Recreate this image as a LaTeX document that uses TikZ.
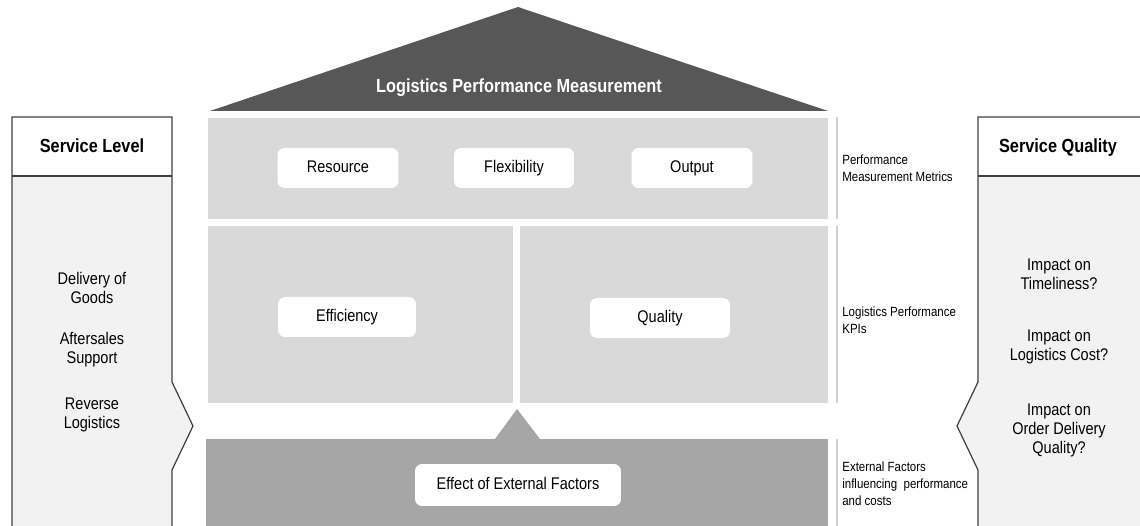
\documentclass[tikz,border=0pt]{standalone}
\usepackage{fontspec}
\setmainfont{Liberation Sans}[FakeStretch=0.86]
\usepackage{tikz}
\usetikzlibrary{shapes}
\definecolor{roofgray}{HTML}{575757}
\definecolor{bandgray}{HTML}{D9D9D9}
\definecolor{basegray}{HTML}{A6A6A6}
\definecolor{panelgray}{HTML}{F2F2F2}
\definecolor{linegray}{HTML}{404040}
\definecolor{sepgray}{HTML}{CFCFCF}
\tikzset{
	box node/.style={rectangle,fill=white,rounded corners=4pt,inner sep=0pt,minimum height=0.8cm,text height=7pt,text depth=2pt,font=\fontsize{9.6}{11}\selectfont},
	list node/.style={align=center,inner sep=0pt,font=\fontsize{9.6}{10.8}\selectfont},
	side node/.style={anchor=west,align=left,inner sep=0pt,font=\fontsize{7.6}{9.6}\selectfont},
	head node/.style={inner sep=0pt,text height=8pt,text depth=2.2pt,font=\fontsize{10.8}{12}\selectfont\bfseries},
	panel/.style={draw=linegray,line width=0.7pt}
}

\begin{document}
\begin{tikzpicture}[x=0.02cm,y=-0.02cm]
\useasboundingbox (0,0) rectangle (1140,526);
% house
\fill[roofgray] (210,111) -- (518,7) -- (828,111) -- cycle;
\fill[bandgray] (208,118) rectangle (828,219);
\fill[bandgray] (208,226) rectangle (513,403);
\fill[bandgray] (520,226) rectangle (828,403);
\fill[basegray] (206,439) rectangle (828,526);
\fill[basegray] (495,439) -- (517,409) -- (540,439) -- cycle;
\foreach \a/\b in {117/219,226/403,439/526}
	\draw[sepgray,line width=1pt] (837,\a) -- (837,\b);
\node [head node,text=white] (1) at (519,87) {Logistics Performance Measurement};
\node [box node,minimum width=2.42cm] (2) at (338,168) {Resource};
\node [box node,minimum width=2.40cm] (3) at (514,168) {Flexibility};
\node [box node,minimum width=2.42cm] (4) at (692,168) {Output};
\node [box node,minimum width=2.76cm] (5) at (347,317) {Efficiency};
\node [box node,minimum width=2.80cm] (6) at (660,318) {Quality};
\node [box node,minimum width=4.12cm,minimum height=0.84cm] (7) at (518,485) {Effect of External Factors};
% side labels
\node [side node] (8) at (842,168) {Performance\\Measurement Metrics};
\node [side node] (9) at (842,320) {Logistics Performance\\KPIs};
\node [side node] (10) at (842,484) {External Factors\\influencing~~performance\\and costs};
% left panel
\fill[panelgray] (12,176) -- (172,176) -- (172,382) -- (193,426) -- (172,470) -- (172,526) -- (12,526) -- cycle;
\draw[panel] (12,526) -- (12,117) -- (172,117) -- (172,382) -- (193,426) -- (172,470) -- (172,526);
\draw[panel] (12,176) -- (172,176);
\node [head node] (11) at (92,147) {Service Level};
\node [list node] (12) at (92,287.5) {Delivery of\\Goods};
\node [list node] (13) at (92,350) {Aftersales\\Support};
\node [list node] (14) at (92,415) {Reverse\\Logistics};
% right panel
\fill[panelgray] (978,176) -- (1140,176) -- (1140,526) -- (978,526) -- (978,470) -- (957,426) -- (978,382) -- cycle;
\draw[panel] (1140,117) -- (978,117) -- (978,382) -- (957,426) -- (978,470) -- (978,526);
\draw[panel] (978,176) -- (1140,176);
\node [head node] (15) at (1058,147) {Service Quality};
\node [list node] (16) at (1059,274) {Impact on\\Timeliness?};
\node [list node] (17) at (1059,347) {Impact on\\Logistics Cost?};
\node [list node] (18) at (1059,430) {Impact on\\Order Delivery\\Quality?};
\end{tikzpicture}
\end{document}
